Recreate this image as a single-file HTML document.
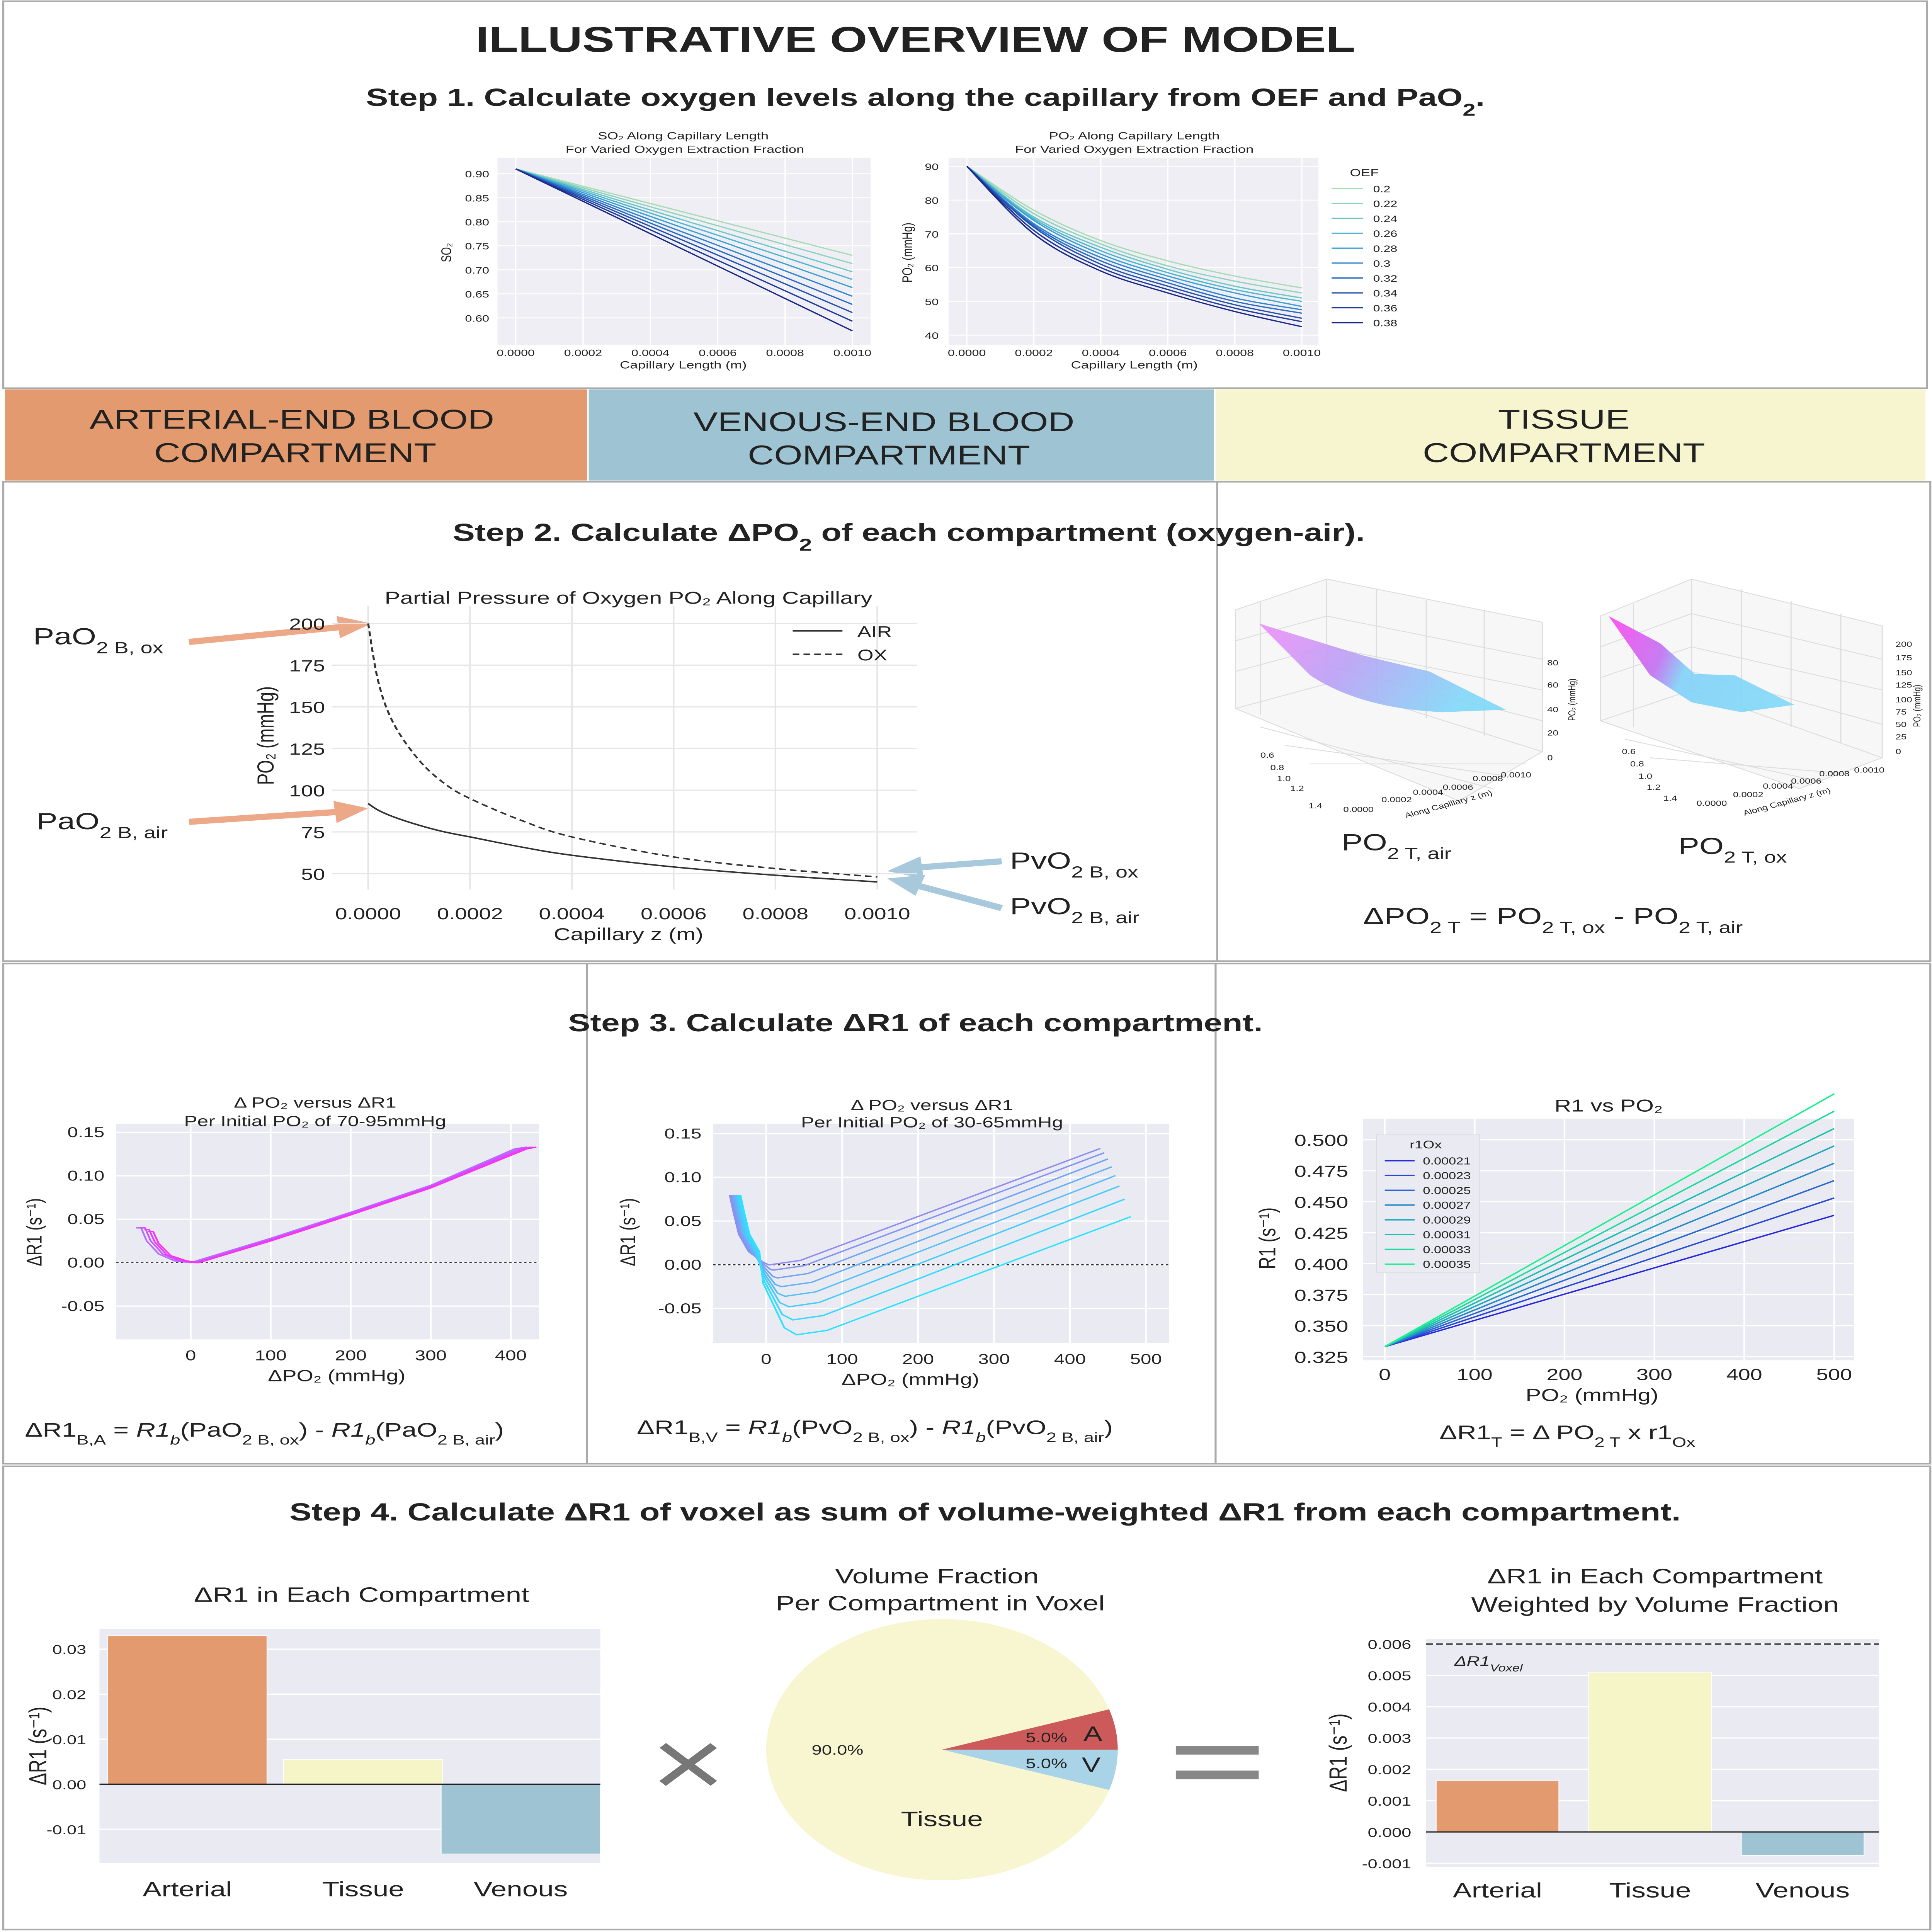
<!DOCTYPE html>
<html><head><meta charset="utf-8"><title>Illustrative overview of model</title>
<style>
html,body{margin:0;padding:0;background:#fff;width:100vw;height:100vh;overflow:hidden}
svg{display:block;overflow:hidden;width:100vw;height:100vh}
text{font-family:"Liberation Sans",Arial,sans-serif;fill:#222}
</style></head>
<body>
<svg id="root" xmlns="http://www.w3.org/2000/svg" viewBox="0 0 1165 1568" preserveAspectRatio="none">
<defs>
<linearGradient id="g3a" x1="0" y1="0" x2="1" y2="0.3"><stop offset="0" stop-color="#f08cf8"/><stop offset="0.45" stop-color="#b9a0f5"/><stop offset="1" stop-color="#7fd8f8"/></linearGradient>
<linearGradient id="g3b" x1="0" y1="0" x2="1" y2="0.2"><stop offset="0" stop-color="#ff44f0"/><stop offset="0.35" stop-color="#c070f0"/><stop offset="0.5" stop-color="#80d0f8"/><stop offset="1" stop-color="#80d8f8"/></linearGradient>
</defs>
<rect x="0" y="0" width="1165" height="1568" fill="#fff"/>
<g fill="none" stroke="#aaa" stroke-width="1.2">
<rect x="2" y="1" width="1160" height="314"/>
<rect x="2" y="391" width="1162" height="389"/>
<line x1="734" y1="391" x2="734" y2="780"/>
<rect x="2" y="782" width="1162" height="406"/>
<line x1="354" y1="782" x2="354" y2="1188"/>
<line x1="733" y1="782" x2="733" y2="1188"/>
<rect x="2" y="1190" width="1162" height="376"/>
</g>
<text x="552" y="42" font-size="29" font-weight="bold" text-anchor="middle">ILLUSTRATIVE OVERVIEW OF MODEL</text>
<text x="558" y="86" font-size="20" font-weight="bold" text-anchor="middle">Step 1. Calculate oxygen levels along the capillary from OEF and PaO<tspan font-size="14" baseline-shift="sub">2</tspan>.</text>
<rect x="3" y="316" width="351" height="74" fill="#e39a6e"/>
<rect x="355" y="316" width="377" height="74" fill="#9ec3d3"/>
<rect x="733" y="316" width="428" height="74" fill="#f6f5d0"/>
<text x="176" y="348" font-size="22" text-anchor="middle">ARTERIAL-END BLOOD</text>
<text x="178" y="375" font-size="22" text-anchor="middle">COMPARTMENT</text>
<text x="533" y="350" font-size="22" text-anchor="middle">VENOUS-END BLOOD</text>
<text x="536" y="377" font-size="22" text-anchor="middle">COMPARTMENT</text>
<text x="943" y="348" font-size="22" text-anchor="middle">TISSUE</text>
<text x="943" y="375" font-size="22" text-anchor="middle">COMPARTMENT</text>
<text x="548" y="439" font-size="20" font-weight="bold" text-anchor="middle">Step 2. Calculate ΔPO<tspan font-size="14" baseline-shift="sub">2</tspan> of each compartment (oxygen-air).</text>
<text x="552" y="837" font-size="20" font-weight="bold" text-anchor="middle">Step 3. Calculate ΔR1 of each compartment.</text>
<text x="594" y="1234" font-size="20" font-weight="bold" text-anchor="middle">Step 4. Calculate ΔR1 of voxel as sum of volume-weighted ΔR1 from each compartment.</text>

<text x="20" y="523" font-size="19">PaO<tspan font-size="13" baseline-shift="sub">2 B, ox</tspan></text>
<text x="22" y="673" font-size="19">PaO<tspan font-size="13" baseline-shift="sub">2 B, air</tspan></text>
<text x="609" y="705" font-size="19">PvO<tspan font-size="13" baseline-shift="sub">2 B, ox</tspan></text>
<text x="609" y="742" font-size="19">PvO<tspan font-size="13" baseline-shift="sub">2 B, air</tspan></text>
<g><line x1="114" y1="521" x2="205" y2="509" stroke="#eda888" stroke-width="5"/><polygon points="224,506 203,500 205,518" fill="#eda888"/></g>
<g><line x1="114" y1="667" x2="203" y2="659" stroke="#eda888" stroke-width="5"/><polygon points="222,656 201,650 203,668" fill="#eda888"/></g>
<g><line x1="604" y1="699" x2="554" y2="704" stroke="#a8c8dc" stroke-width="5"/><polygon points="535,707 555,695 557,713" fill="#a8c8dc"/></g>
<g><line x1="604" y1="737" x2="554" y2="719" stroke="#a8c8dc" stroke-width="5"/><polygon points="535,713 558,710 552,727" fill="#a8c8dc"/></g>

<g stroke="#ddd" stroke-width="0.7" fill="none">
<polygon points="745,495 800,470 930,505 930,610 880,650 745,575" fill="#f7f7f7"/>
<line x1="800" y1="470" x2="800" y2="555"/><line x1="800" y1="555" x2="745" y2="575"/><line x1="800" y1="555" x2="930" y2="610"/>
<line x1="760" y1="488" x2="760" y2="580"/><line x1="830" y1="478" x2="830" y2="570"/><line x1="860" y1="487" x2="860" y2="583"/><line x1="895" y1="495" x2="895" y2="597"/>
<line x1="745" y1="520" x2="800" y2="500"/><line x1="745" y1="545" x2="800" y2="525"/><line x1="800" y1="500" x2="930" y2="535"/><line x1="800" y1="525" x2="930" y2="560"/><line x1="800" y1="540" x2="930" y2="585"/>
<line x1="760" y1="590" x2="900" y2="640"/><line x1="775" y1="605" x2="910" y2="630"/><line x1="790" y1="620" x2="920" y2="620"/>
<path d="M759,506 L822,532 L862,545 L908,576 L870,578 Q820,575 790,548 Z" fill="url(#g3a)" stroke="none" opacity="0.9"/>
</g>
<g font-size="6" fill="#444">
<text x="933" y="540">80</text><text x="933" y="558">60</text><text x="933" y="578">40</text><text x="933" y="597">20</text><text x="933" y="617">0</text>
<text x="760" y="615">0.6</text><text x="766" y="625">0.8</text><text x="770" y="634">1.0</text><text x="778" y="642">1.2</text><text x="789" y="656">1.4</text>
<text x="810" y="659">0.0000</text><text x="833" y="651">0.0002</text><text x="852" y="645">0.0004</text><text x="870" y="641">0.0006</text><text x="888" y="634">0.0008</text><text x="905" y="631">0.0010</text>
<text x="848" y="664" transform="rotate(-20 848 664)">Along Capillary z (m)</text>
<text x="950" y="585" transform="rotate(-90 950 585)">PO₂ (mmHg)</text>
</g>
<g stroke="#ddd" stroke-width="0.7" fill="none">
<polygon points="965,500 1020,470 1135,508 1135,615 1085,640 965,585" fill="#f7f7f7"/>
<line x1="1020" y1="470" x2="1020" y2="560"/><line x1="1020" y1="560" x2="965" y2="585"/><line x1="1020" y1="560" x2="1135" y2="615"/>
<line x1="985" y1="490" x2="985" y2="590"/><line x1="1050" y1="478" x2="1050" y2="575"/><line x1="1080" y1="488" x2="1080" y2="590"/><line x1="1110" y1="498" x2="1110" y2="603"/>
<line x1="965" y1="525" x2="1020" y2="498"/><line x1="965" y1="550" x2="1020" y2="525"/><line x1="1020" y1="498" x2="1135" y2="535"/><line x1="1020" y1="525" x2="1135" y2="560"/><line x1="1020" y1="545" x2="1135" y2="588"/>
<line x1="980" y1="600" x2="1100" y2="635"/><line x1="995" y1="615" x2="1115" y2="628"/>
<polygon points="970,500 1001,522 1022,547 1046,548 1082,572 1050,578 1020,570 995,548" fill="url(#g3b)" stroke="none" opacity="0.9"/>
</g>
<g font-size="6" fill="#444">
<text x="1143" y="525">200</text><text x="1143" y="536">175</text><text x="1143" y="548">150</text><text x="1143" y="558">125</text><text x="1143" y="570">100</text><text x="1143" y="580">75</text><text x="1143" y="590">50</text><text x="1143" y="600">25</text><text x="1143" y="612">0</text>
<text x="978" y="612">0.6</text><text x="983" y="622">0.8</text><text x="988" y="632">1.0</text><text x="993" y="641">1.2</text><text x="1003" y="650">1.4</text>
<text x="1023" y="654">0.0000</text><text x="1045" y="647">0.0002</text><text x="1063" y="640">0.0004</text><text x="1080" y="636">0.0006</text><text x="1097" y="630">0.0008</text><text x="1118" y="627">0.0010</text>
<text x="1052" y="662" transform="rotate(-20 1052 662)">Along Capillary z (m)</text>
<text x="1158" y="590" transform="rotate(-90 1158 590)">PO₂ (mmHg)</text>
</g>
<text x="809" y="690" font-size="19">PO<tspan font-size="13" baseline-shift="sub">2 T, air</tspan></text>
<text x="1012" y="693" font-size="19">PO<tspan font-size="13" baseline-shift="sub">2 T, ox</tspan></text>
<text x="822" y="750" font-size="19">ΔPO<tspan font-size="13" baseline-shift="sub">2 T</tspan> = PO<tspan font-size="13" baseline-shift="sub">2 T, ox</tspan> - PO<tspan font-size="13" baseline-shift="sub">2 T, air</tspan></text>

<text x="15" y="1166" font-size="16">ΔR1<tspan font-size="11" baseline-shift="sub">B,A</tspan> = <tspan font-style="italic">R1</tspan><tspan font-size="11" baseline-shift="sub" font-style="italic">b</tspan>(PaO<tspan font-size="11" baseline-shift="sub">2 B, ox</tspan>) - <tspan font-style="italic">R1</tspan><tspan font-size="11" baseline-shift="sub" font-style="italic">b</tspan>(PaO<tspan font-size="11" baseline-shift="sub">2 B, air</tspan>)</text>
<text x="384" y="1164" font-size="16">ΔR1<tspan font-size="11" baseline-shift="sub">B,V</tspan> = <tspan font-style="italic">R1</tspan><tspan font-size="11" baseline-shift="sub" font-style="italic">b</tspan>(PvO<tspan font-size="11" baseline-shift="sub">2 B, ox</tspan>) - <tspan font-style="italic">R1</tspan><tspan font-size="11" baseline-shift="sub" font-style="italic">b</tspan>(PvO<tspan font-size="11" baseline-shift="sub">2 B, air</tspan>)</text>
<text x="868" y="1168" font-size="16">ΔR1<tspan font-size="11" baseline-shift="sub">T</tspan> = Δ PO<tspan font-size="11" baseline-shift="sub">2 T</tspan> x r1<tspan font-size="11" baseline-shift="sub">Ox</tspan></text>

<text x="415" y="1458" font-size="78" text-anchor="middle" style="fill:#777">×</text>
<g fill="#888"><rect x="709" y="1417" width="50" height="7"/><rect x="709" y="1437" width="50" height="7"/></g>
<g id="charts"></g>
</svg>
<script>
// ---------- data ----------
const oefLevels = [0.2,0.22,0.24,0.26,0.28,0.3,0.32,0.34,0.36,0.38];
const so2Start = 0.91;
const so2End = [0.73,0.713,0.696,0.68,0.663,0.645,0.628,0.611,0.593,0.573];
const capX = [0,0.0002,0.0004,0.0006,0.0008,0.001];
const po2Curves = [
 [90,77,68,62,57.5,54],[90,76,67,60.5,56,52.5],[90,75,66,59.5,54.5,51],[90,74.5,65,58.5,53.5,50],
 [90,74,64,57.5,52.5,48.5],[90,73,63,56.5,51,47.5],[90,72.5,62,55.5,50,46.5],[90,72,61,54.5,49,45],
 [90,71,60,53.5,48,44],[90,70,59,52.5,47,42.5]];
const s2X = [0,0.00002,0.00005,0.0001,0.00015,0.0002,0.0003,0.0004,0.0006,0.0008,0.001];
const s2Air = [92,88,84,79,75,72,66,61,54,49,45];
const s2Ox = [200,165,140,118,104,95,82,72,60,53,48];
const aCurves = [
 [[-68,0.04],[-62,0.04],[-55,0.025],[-40,0.01],[-20,0.002],[0,0.0],[100,0.028],[200,0.058],[300,0.089],[405,0.131],[420,0.133]],
 [[-63,0.04],[-57,0.04],[-50,0.025],[-35,0.01],[-15,0.002],[5,0.0],[100,0.027],[200,0.057],[300,0.088],[410,0.131],[425,0.133]],
 [[-58,0.038],[-52,0.038],[-45,0.024],[-30,0.009],[-10,0.002],[8,0.0],[100,0.026],[200,0.056],[300,0.087],[415,0.131],[428,0.133]],
 [[-53,0.036],[-47,0.036],[-40,0.022],[-25,0.008],[-5,0.002],[10,0.0],[100,0.025],[200,0.055],[300,0.086],[420,0.131],[432,0.133]]];
const aColors = ['#b070ff','#cc55ff','#e040ff','#ff30f0'];
const bMins = [0.0,-0.006,-0.015,-0.025,-0.036,-0.048,-0.063,-0.08];
const bMinX = [5,10,15,20,25,30,35,40];
const bEndX = [440,445,450,455,460,465,472,480];
const bEndY = [0.133,0.128,0.121,0.112,0.102,0.09,0.075,0.055];
const bStartX = [-48,-46,-44,-42,-40,-38,-36,-34];
const bColors = ['#8f8cf2','#8396f3','#74a4f5','#66b2f7','#58c0f9','#4accfb','#3ad8fd','#2ee2ff'];
const r1oxVals = [0.00021,0.00023,0.00025,0.00027,0.00029,0.00031,0.00033,0.00035];
const r1Start = 0.333;
const r1End = [0.439,0.453,0.467,0.481,0.495,0.509,0.523,0.537];
const r1Colors = ['#2828e0','#2848d8','#2868d0','#2888c8','#20a8c0','#20c0b0','#20d8a0','#20f090'];
const compCats = ['Arterial','Tissue','Venous'];
const compDR1 = [0.033,0.0055,-0.0155];
const compWeighted = [0.00163,0.0051,-0.00075];
const compColors = ['#e39a6e','#f6f5c8','#9ec3d3'];
const volFrac = [5.0,5.0,90.0];
const voxelDR1 = 0.006;

// ---------- helpers ----------
const NS='http://www.w3.org/2000/svg';
const root=document.getElementById('charts');
function mk(tag,attrs,parent){const e=document.createElementNS(NS,tag);for(const k in attrs)e.setAttribute(k,attrs[k]);(parent||root).appendChild(e);return e;}
function lin(d0,d1,r0,r1){return v=>r0+(v-d0)*(r1-r0)/(d1-d0);}
function txt(x,y,s,size,anchor,parent,extra){const t=mk('text',Object.assign({x:x,y:y,'font-size':size,'text-anchor':anchor||'start'},extra||{}),parent);t.textContent=s;return t;}
function path(pts){return pts.map((p,i)=>(i?'L':'M')+p[0].toFixed(2)+','+p[1].toFixed(2)).join(' ');}
function smooth(p){let d='M'+p[0][0].toFixed(2)+','+p[0][1].toFixed(2);
 for(let i=0;i<p.length-1;i++){const p0=p[i-1]||p[i],p1=p[i],p2=p[i+1],p3=p[i+2]||p2;
  const c1=[p1[0]+(p2[0]-p0[0])/6,p1[1]+(p2[1]-p0[1])/6],c2=[p2[0]-(p3[0]-p1[0])/6,p2[1]-(p3[1]-p1[1])/6];
  d+=' C'+c1[0].toFixed(2)+','+c1[1].toFixed(2)+' '+c2[0].toFixed(2)+','+c2[1].toFixed(2)+' '+p2[0].toFixed(2)+','+p2[1].toFixed(2);}
 return d;}

// ---------- Step1 SO2 ----------
(function(){
 const g=mk('g',{});
 
 
 const X=lin(0,0.001,311,514), Y=lin(0.6,0.9,258,141);
 const cols=['#a8dcb5','#8fd3bd','#6cc7c7','#4db6d0','#3aa0d6','#2f86d0','#2a6bc4','#2552b0','#203c9c','#1b2a86'];
 const bg=mk('rect',{x:300,y:128,width:225,height:152,fill:'#eeeef4'},g);
 
 
 [0.6,0.65,0.7,0.75,0.8,0.85,0.9].forEach(v=>{mk('line',{x1:300,x2:525,y1:Y(v),y2:Y(v),stroke:'#fff','stroke-width':0.8},g);txt(295,Y(v)+3,v.toFixed(2),7.5,'end',g);});
 capX.forEach(v=>{mk('line',{x1:X(v),x2:X(v),y1:128,y2:280,stroke:'#fff','stroke-width':0.8},g);txt(X(v),289,v.toFixed(4),7.5,'middle',g);});
 so2End.forEach((e,i)=>{const l=mk('path',{d:path([[X(0),Y(so2Start)],[X(0.001),Y(e)]]),stroke:cols[i],fill:'none','stroke-width':1},g);
  
  });
 txt(412,113,'SO₂ Along Capillary Length',8.5,'middle',g);
 txt(413,124,'For Varied Oxygen Extraction Fraction',8.5,'middle',g);
 txt(412,299,'Capillary Length (m)',8.5,'middle',g);
 txt(272,205,'SO₂',8.5,'middle',g,{transform:'rotate(-90 272 205)'});
})();

// ---------- Step1 PO2 ----------
(function(){
 const g=mk('g',{});
 
 
 const X=lin(0,0.001,583,785), Y=lin(40,90,272,135);
 const cols=['#a8dcb5','#8fd3bd','#6cc7c7','#4db6d0','#3aa0d6','#2f86d0','#2a6bc4','#2552b0','#203c9c','#1b2a86'];
 mk('rect',{x:572,y:128,width:223,height:152,fill:'#eeeef4'},g);
 [40,50,60,70,80,90].forEach(v=>{mk('line',{x1:572,x2:795,y1:Y(v),y2:Y(v),stroke:'#fff','stroke-width':0.8},g);txt(566,Y(v)+3,String(v),7.5,'end',g);});
 capX.forEach(v=>{mk('line',{x1:X(v),x2:X(v),y1:128,y2:280,stroke:'#fff','stroke-width':0.8},g);txt(X(v),289,v.toFixed(4),7.5,'middle',g);});
 po2Curves.forEach((c,i)=>{
  const pts=c.map((v,k)=>[X(capX[k]),Y(v)]);
  const l=mk('path',{d:smooth(pts),stroke:cols[i],fill:'none','stroke-width':1},g);
  
  
  const ly=153+i*12.1;
  const le=mk('line',{x1:803,x2:822,y1:ly,y2:ly,stroke:cols[i],'stroke-width':1},g);
  
  
  txt(828,ly+3,String(oefLevels[i]),7.5,'start',g);
 });
 txt(814,143,'OEF',8.5,'start',g);
 txt(684,113,'PO₂ Along Capillary Length',8.5,'middle',g);
 txt(684,124,'For Varied Oxygen Extraction Fraction',8.5,'middle',g);
 txt(684,299,'Capillary Length (m)',8.5,'middle',g);
 txt(550,205,'PO₂ (mmHg)',8.5,'middle',g,{transform:'rotate(-90 550 205)'});
})();

// ---------- Step2 main ----------
(function(){
 const g=mk('g',{});
 
 
 const X=lin(0,0.001,222,529), Y=lin(50,200,709,506);
 mk('rect',{x:200,y:492,width:353,height:230,fill:'none'},g);
 [50,75,100,125,150,175,200].forEach(v=>{mk('line',{x1:200,x2:553,y1:Y(v),y2:Y(v),stroke:'#e6e6e6','stroke-width':1},g);txt(196,Y(v)+5,String(v),13,'end',g);});
 capX.forEach(v=>{mk('line',{x1:X(v),x2:X(v),y1:492,y2:722,stroke:'#e6e6e6','stroke-width':1},g);txt(X(v),746,v.toFixed(4),13,'middle',g);});
 const a=mk('path',{d:smooth(s2X.map((x,i)=>[X(x),Y(s2Air[i])])),stroke:'#333',fill:'none','stroke-width':1.2},g);
 
 
 const o=mk('path',{d:smooth(s2X.map((x,i)=>[X(x),Y(s2Ox[i])])),stroke:'#333',fill:'none','stroke-width':1.2,'stroke-dasharray':'4 2.5'},g);
 
 
 mk('line',{x1:478,x2:508,y1:512,y2:512,stroke:'#333','stroke-width':1.2},g);txt(517,517,'AIR',12.5,'start',g);
 mk('line',{x1:478,x2:508,y1:531,y2:531,stroke:'#333','stroke-width':1.2,'stroke-dasharray':'4 2.5'},g);txt(517,536,'OX',12.5,'start',g);
 txt(379,490,'Partial Pressure of Oxygen PO₂ Along Capillary',14,'middle',g);
 txt(379,763,'Capillary z (m)',14,'middle',g);
 txt(165,597,'PO₂ (mmHg)',14,'middle',g,{transform:'rotate(-90 165 597)'});
})();

// ---------- Step3 A ----------
(function(){
 const g=mk('g',{});
 
 
 const X=lin(0,400,115,308), Y=lin(-0.05,0.15,1060,919);
 mk('rect',{x:70,y:912,width:255,height:175,fill:'#eaeaf2'},g);
 [-0.05,0,0.05,0.1,0.15].forEach(v=>{mk('line',{x1:70,x2:325,y1:Y(v),y2:Y(v),stroke:'#fff','stroke-width':1},g);txt(63,Y(v)+4,v.toFixed(2),11.5,'end',g);});
 [0,100,200,300,400].forEach(v=>{mk('line',{x1:X(v),x2:X(v),y1:912,y2:1087,stroke:'#fff','stroke-width':1},g);txt(X(v),1104,String(v),11.5,'middle',g);});
 mk('line',{x1:70,x2:325,y1:Y(0),y2:Y(0),stroke:'#333','stroke-width':0.8,'stroke-dasharray':'1.5 1.5'},g);
 aCurves.forEach((c,i)=>{const l=mk('path',{d:path(c.map(p=>[X(p[0]),Y(p[1])])),stroke:aColors[i],fill:'none','stroke-width':1.1,'stroke-linejoin':'round'},g);
  
  });
 txt(190,899,'Δ PO₂ versus ΔR1',12,'middle',g);
 txt(190,914,'Per Initial PO₂ of 70-95mmHg',12,'middle',g);
 txt(203,1121,'ΔPO₂ (mmHg)',13,'middle',g);
 txt(25,1000,'ΔR1 (s⁻¹)',13,'middle',g,{transform:'rotate(-90 25 1000)'});
})();

// ---------- Step3 B ----------
(function(){
 const g=mk('g',{});
 
 
 const X=lin(0,500,462,691), Y=lin(-0.05,0.15,1062,920);
 mk('rect',{x:430,y:912,width:275,height:178,fill:'#eaeaf2'},g);
 [-0.05,0,0.05,0.1,0.15].forEach(v=>{mk('line',{x1:430,x2:705,y1:Y(v),y2:Y(v),stroke:'#fff','stroke-width':1},g);txt(423,Y(v)+4,v.toFixed(2),11.5,'end',g);});
 [0,100,200,300,400,500].forEach(v=>{mk('line',{x1:X(v),x2:X(v),y1:912,y2:1090,stroke:'#fff','stroke-width':1},g);txt(X(v),1107,String(v),11.5,'middle',g);});
 mk('line',{x1:430,x2:705,y1:Y(0),y2:Y(0),stroke:'#333','stroke-width':0.8,'stroke-dasharray':'1.5 1.5'},g);
 bMins.forEach((m,i)=>{
  const sx=bStartX[i];
  const pts=[[sx,0.08],[sx+5,0.06],[sx+12,0.035],[sx+25,0.015],[-4,m*0.3+0.003],[bMinX[i]*0.6,m*0.9],[bMinX[i],m],[bMinX[i]+40,m+0.005],[bEndX[i],bEndY[i]]];
  const l=mk('path',{d:path(pts.map(p=>[X(p[0]),Y(p[1])])),stroke:bColors[i],fill:'none','stroke-width':1.1,'stroke-linejoin':'round'},g);
  
  
 });
 txt(562,901,'Δ PO₂ versus ΔR1',12,'middle',g);
 txt(562,915,'Per Initial PO₂ of 30-65mmHg',12,'middle',g);
 txt(549,1124,'ΔPO₂ (mmHg)',13,'middle',g);
 txt(383,1000,'ΔR1 (s⁻¹)',13,'middle',g,{transform:'rotate(-90 383 1000)'});
})();

// ---------- Step3 C ----------
(function(){
 const g=mk('g',{});
 
 
 const X=lin(0,500,835,1106), Y=lin(0.325,0.5,1101,925);
 mk('rect',{x:822,y:908,width:296,height:196,fill:'#eaeaf2'},g);
 [0.325,0.35,0.375,0.4,0.425,0.45,0.475,0.5].forEach(v=>{mk('line',{x1:822,x2:1118,y1:Y(v),y2:Y(v),stroke:'#fff','stroke-width':1},g);txt(813,Y(v)+5,v.toFixed(3),13,'end',g);});
 [0,100,200,300,400,500].forEach(v=>{mk('line',{x1:X(v),x2:X(v),y1:908,y2:1104,stroke:'#fff','stroke-width':1},g);txt(X(v),1120,String(v),13,'middle',g);});
 mk('rect',{x:830,y:921,width:62,height:112,fill:'#eaeaf2',stroke:'#ddd','stroke-width':0.6},g);
 r1End.forEach((e,i)=>{const l=mk('line',{x1:X(0),y1:Y(r1Start),x2:X(500),y2:Y(e),stroke:r1Colors[i],'stroke-width':1.1},g);
  
  
  const ly=942+i*12;
  mk('line',{x1:835,x2:853,y1:ly,y2:ly,stroke:r1Colors[i],'stroke-width':1.1},g);
  txt(858,ly+3,String(r1oxVals[i]),8,'start',g);});
 txt(850,932,'r1Ox',9,'start',g);
 txt(970,902,'R1 vs PO₂',14,'middle',g);
 txt(960,1137,'PO₂ (mmHg)',14,'middle',g);
 txt(769,1005,'R1 (s⁻¹)',14,'middle',g,{transform:'rotate(-90 769 1005)'});
})();

// ---------- Step4 bars ----------
function barChart(name,x0,y0,w,h,dmin,dmax,vals,ticks,fmt,catX,catY,barW,tickX,yLab,yLabX){
 const g=mk('g',{});
 
 
 const Y=lin(dmin,dmax,y0+h,y0);
 mk('rect',{x:x0,y:y0,width:w,height:h,fill:'#eaeaf2'},g);
 ticks.forEach(v=>{mk('line',{x1:x0,x2:x0+w,y1:Y(v),y2:Y(v),stroke:'#fff','stroke-width':1},g);txt(tickX,Y(v)+4,fmt(v),10.5,'end',g);});
 vals.forEach((v,i)=>{
  const b=mk('rect',{x:catX[i]-barW/2,y:Math.min(Y(0),Y(v)),width:barW,height:Math.abs(Y(v)-Y(0)),fill:compColors[i],stroke:'#fff','stroke-width':0.5},g);
  
  
  txt(catX[i],catY,compCats[i],17,'middle',g);
 });
 mk('line',{x1:x0,x2:x0+w,y1:Y(0),y2:Y(0),stroke:'#222','stroke-width':1},g);
 txt(yLabX,y0+h/2,yLab,15,'middle',g,{transform:'rotate(-90 '+yLabX+' '+(y0+h/2)+')'});
 return {g:g,Y:Y};
}
(function(){
 barChart('dr1-compartment-chart',60,1322,302,190,-0.0175,0.0345,compDR1,[-0.01,0,0.01,0.02,0.03],v=>v.toFixed(2),[113,219,314],1539,96,52,'ΔR1 (s⁻¹)',28);
 txt(218,1300,'ΔR1 in Each Compartment',17,'middle');
 const r=barChart('weighted-dr1-chart',860,1330,273,185,-0.00111,0.00617,compWeighted,[-0.001,0,0.001,0.002,0.003,0.004,0.005,0.006],v=>v.toFixed(3),[903,995,1087],1540,74,851,'ΔR1 (s⁻¹)',812);
 const d=mk('line',{x1:860,x2:1133,y1:r.Y(voxelDR1),y2:r.Y(voxelDR1),stroke:'#222','stroke-width':1,'stroke-dasharray':'4 2'},r.g);
 
 
 const t=txt(877,1352,'ΔR1',11,'start',r.g,{'font-style':'italic'});
 const ts=mk('tspan',{'font-size':8,'baseline-shift':'sub'},t);ts.textContent='Voxel';
 txt(998,1285,'ΔR1 in Each Compartment',17,'middle');
 txt(998,1308,'Weighted by Volume Fraction',17,'middle');
})();

// ---------- Pie ----------
(function(){
 const g=mk('g',{});
 
 
 const cx=568,cy=1420,r=106;
 const pcols=['#cd5a5a','#a9d4e8','#f7f6d0'];
 const pnames=['arterial','venous','tissue'];
 const total=volFrac.reduce((a,b)=>a+b,0);
 const aAng=volFrac[0]/total*2*Math.PI, vAng=volFrac[1]/total*2*Math.PI;
 const pt=a=>[cx+r*Math.cos(a),cy+r*Math.sin(a)];
 const arcs=[[-aAng,0],[0,vAng],[vAng,2*Math.PI-aAng]];
 arcs.forEach((a,i)=>{const p0=pt(a[0]),p1=pt(a[1]);const large=(a[1]-a[0])>Math.PI?1:0;
  const s=mk('path',{d:'M'+cx+','+cy+' L'+p0[0]+','+p0[1]+' A'+r+','+r+' 0 '+large+' 1 '+p1[0]+','+p1[1]+' Z',fill:pcols[i]},g);
  
  });
 txt(505,1424,volFrac[2].toFixed(1)+'%',11,'middle',g);
 txt(631,1414,volFrac[0].toFixed(1)+'%',11,'middle',g);
 txt(659,1413,'A',17,'middle',g);
 txt(631,1435,volFrac[1].toFixed(1)+'%',11,'middle',g);
 txt(658,1438,'V',17,'middle',g);
 txt(568,1482,'Tissue',17,'middle',g);
 txt(565,1285,'Volume Fraction',17,'middle',g);
 txt(567,1307,'Per Compartment in Voxel',17,'middle',g);
})();
</script>
</body></html>
